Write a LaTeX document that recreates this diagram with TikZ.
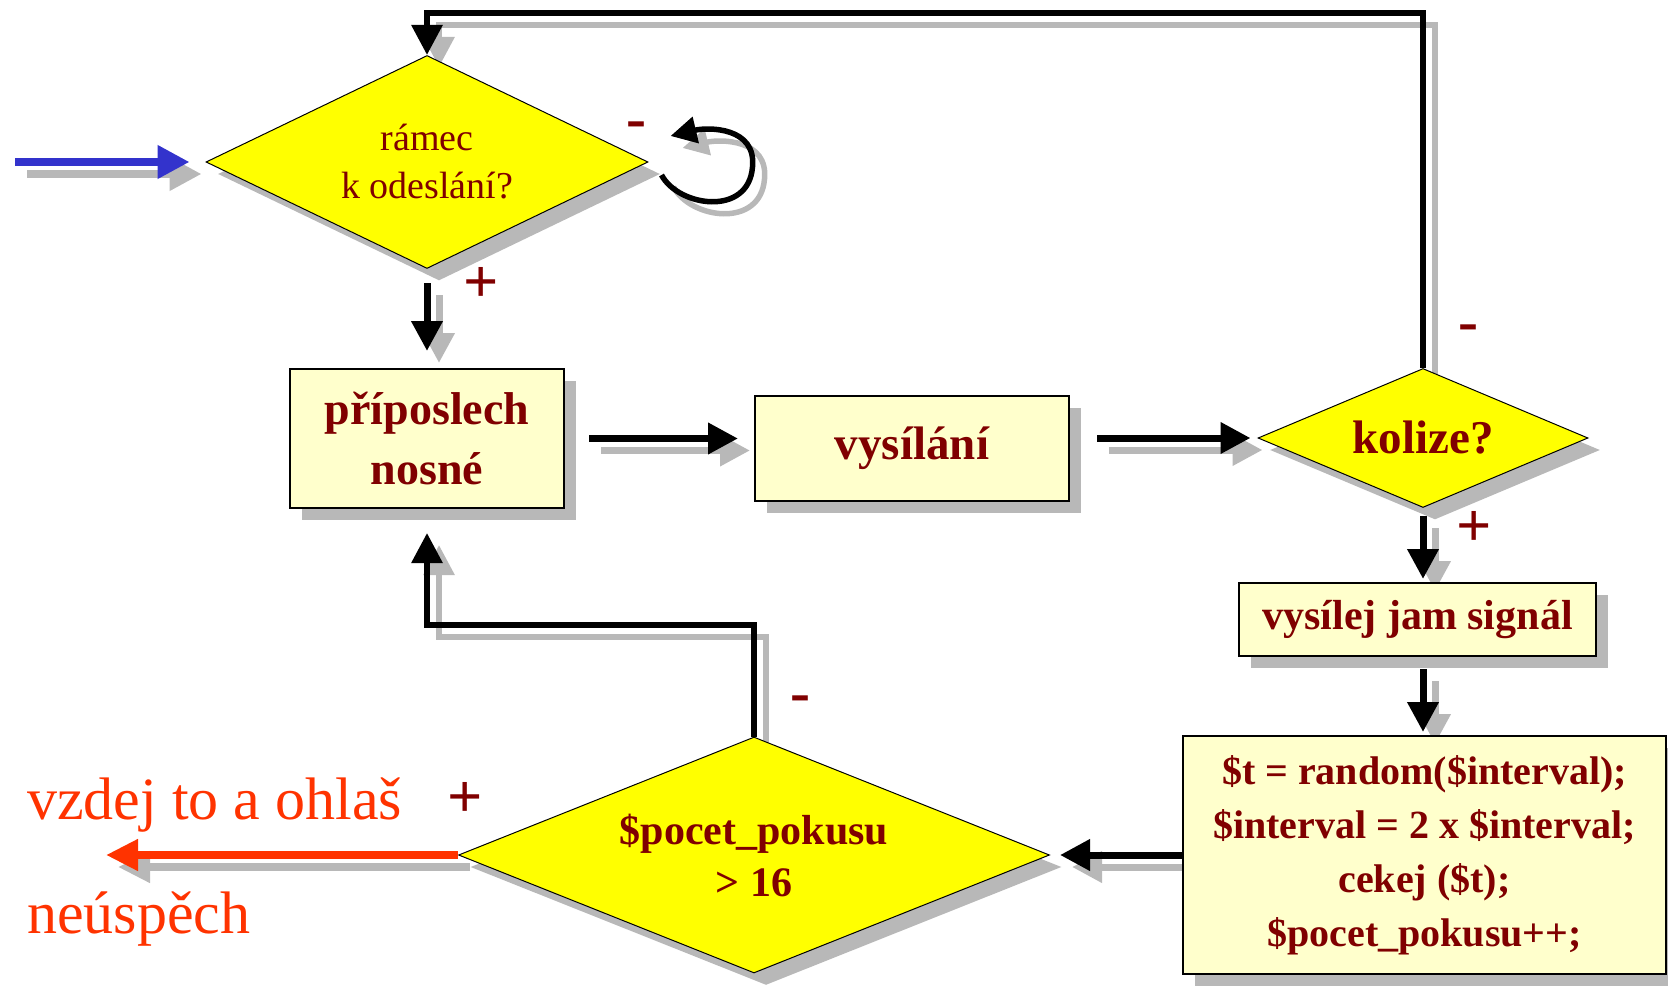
\documentclass[tikz,border=0pt]{standalone}
\usepackage{fontspec}
\setmainfont{Liberation Serif}
\usetikzlibrary{shapes.geometric,arrows.meta,calc,shadows}
\definecolor{txt}{HTML}{800000}
\definecolor{dyellow}{HTML}{FFFF00}
\definecolor{lyellow}{HTML}{FFFFCC}
\definecolor{blu}{HTML}{3333CC}
\definecolor{rd}{HTML}{FF3300}
\definecolor{shd}{HTML}{B8B8B8}
\pgfdeclarelayer{bg}
\pgfsetlayers{bg,main}
\newcommand\myconn[2]{%
  \begin{pgfonlayer}{bg}\draw[conn,#1,shadowcopy] #2;\end{pgfonlayer}%
  \draw[conn,#1] #2;}
\begin{document}
\begin{tikzpicture}[x=1pt,y=-1pt,
  nshadow/.style={drop shadow={shadow xshift=12pt,shadow yshift=-12pt,fill=shd,opacity=1}},
  dec/.style={diamond,draw=black,line width=1pt,fill=dyellow,inner sep=0pt,text=txt,align=center,nshadow},
  proc/.style={rectangle,draw=black,line width=2pt,fill=lyellow,inner sep=0pt,text=txt,align=center,nshadow},
  conn/.style={draw=black,line width=7pt,-{Triangle[length=30pt,width=30pt]}},
  shadowcopy/.style={draw=shd,transform canvas={shift={(12pt,-12pt)}}},
  sgn/.style={text=txt,font=\fontsize{62}{62}\selectfont\bfseries,inner sep=0pt},
  msgn/.style={text=txt,font=\fontsize{60}{60}\selectfont\bfseries,inner sep=0pt},
  redtext/.style={text=rd,font=\fontsize{60}{60}\selectfont,inner sep=0pt},
]
\useasboundingbox (0,0) rectangle (1668,987);

% nodes
\node[dec,aspect=2.07,minimum width=442pt,minimum height=213pt,
      font=\fontsize{38}{48}\selectfont] (d1) at (427,162) {rámec\\k odeslání?};
\node[proc,minimum width=274pt,minimum height=139pt,
      font=\fontsize{46}{60}\selectfont\bfseries] (b1) at (427,438.5) {příposlech\\nosné};
\node[proc,minimum width=314pt,minimum height=105pt,
      font=\fontsize{47}{58}\selectfont\bfseries] (b2) at (912,448.5) {vysílání};
\node[dec,aspect=2.37,minimum width=330pt,minimum height=139pt,
      font=\fontsize{47}{58}\selectfont\bfseries] (d2) at (1423,438) {kolize?};
\node[proc,minimum width=357pt,minimum height=73pt,
      font=\fontsize{42}{52}\selectfont\bfseries] (b3) at (1417.5,619.5) {vysílej jam signál};
\node[proc,minimum width=483pt,minimum height=238pt,
      font=\fontsize{40}{54}\selectfont\bfseries] (b4) at (1424.5,855) {\$t = random(\$interval);\\\$interval = 2 x \$interval;\\cekej (\$t);\\\$pocet\_pokusu++;};
\node[dec,aspect=2.5,minimum width=591pt,minimum height=236pt,
      font=\fontsize{42}{52}\selectfont\bfseries] (d3) at (754,855) {\$pocet\_pokusu\\> 16};

\coordinate (in) at (15,162);
\coordinate (out) at (106,855);
\coordinate (topy) at (0,13);
\coordinate (ret) at (0,625);

% connectors
\myconn{blu,line width=7.5pt,-{Triangle[length=32pt,width=32pt]},shorten >=16pt}{(in) -- (d1.west)}
\myconn{line width=6pt}{(d2.north) |- (topy -| d1.north) -- (d1.north)}
\myconn{line width=5.5pt,-{Triangle[length=26pt,width=26pt]}}{($(d1.east)+(13,13)$) .. controls ($(d1.east)+(30,45)$) and ($(d1.east)+(100,55)$) .. ($(d1.east)+(104,5)$) .. controls ($(d1.east)+(108,-35)$) and ($(d1.east)+(60,-35)$) .. ($(d1.east)+(22,-26)$)}
\myconn{shorten <=14pt,shorten >=17pt}{(d1.south) -- (b1.north)}
\myconn{shorten <=24pt,shorten >=16pt}{(b1.east) -- (b1.east -| b2.west)}
\myconn{shorten <=27pt,shorten >=7pt}{(b2.east |- d2.west) -- (d2.west)}
\myconn{shorten <=8pt,shorten >=3pt}{(d2.south) -- (d2.south |- b3.north)}
\myconn{shorten <=12pt,shorten >=3pt}{(b3.south -| d2.south) -- (b4.north -| d2.south)}
\myconn{shorten >=10pt}{(b4.west) -- (b4.west -| d3.east)}
\myconn{line width=6pt,shorten >=24pt}{(d3.north) -- (d3.north |- ret) -| (b1.south)}
\myconn{rd,line width=7.5pt,-{Triangle[length=32pt,width=30pt]}}{(d3.west) -- (out)}

% signs
\node[msgn] (m1) at (636,130) {-};
\node[sgn] (p1) at (481,285) {+};
\node[msgn] (m2) at (1468,333) {-};
\node[sgn] (p2) at (1474,529) {+};
\node[msgn] (m3) at (800,704) {-};
\node[sgn] (p3) at (465,800) {+};

% red texts
\node[redtext,anchor=base west] (t1) at (27,819) {vzdej to a ohlaš};
\node[redtext,anchor=base west] (t2) at (27,933) {neúspěch};
\end{tikzpicture}
\end{document}
